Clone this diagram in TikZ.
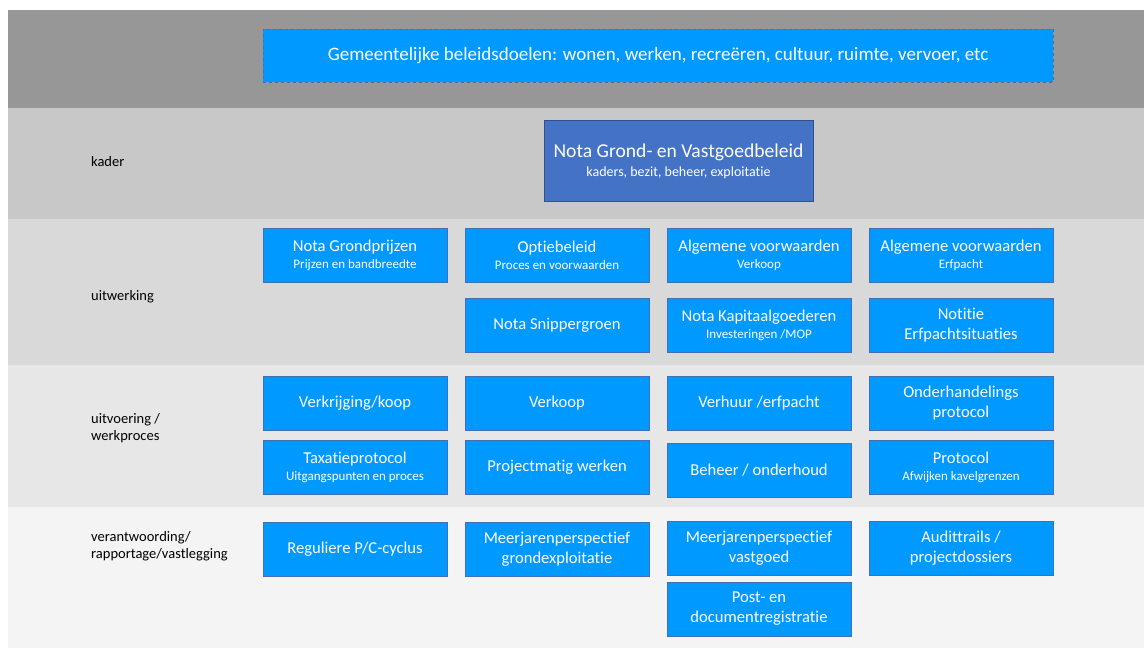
\documentclass[tikz,border=0pt]{standalone}
\usepackage{fontspec}
\setmainfont[Ligatures=NoCommon]{Carlito}
\definecolor{bandA}{RGB}{151,151,151}
\definecolor{bandB}{RGB}{200,200,200}
\definecolor{bandC}{RGB}{217,217,217}
\definecolor{bandD}{RGB}{231,231,231}
\definecolor{bandE}{RGB}{244,244,244}
\definecolor{boxblue}{RGB}{0,153,255}
\definecolor{boxline}{RGB}{70,110,180}
\definecolor{kaderblue}{RGB}{68,114,196}
\definecolor{kaderline}{RGB}{47,82,143}
\newcommand{\subtxt}[1]{\\[-3pt]{\fontsize{13}{15}\selectfont #1}}
\tikzset{
  box/.style={draw=boxline, fill=boxblue, text=white, align=center, inner sep=0pt,
    minimum width=184, minimum height=54, font=\fontsize{16.6}{20}\selectfont},
  lbl/.style={anchor=west, align=left, inner sep=0pt, font=\fontsize{14.5}{17.5}\selectfont}
}
\begin{document}
\begin{tikzpicture}[x=1pt, y=-1pt]
    \useasboundingbox[fill=white] (0,0) rectangle (1144,650);
    \fill[bandA] (8,10) rectangle (1144,108);
    \fill[bandB] (8,108) rectangle (1144,219);
    \fill[bandC] (8,219) rectangle (1144,365);
    \fill[bandD] (8,365) rectangle (1144,507);
    \fill[bandE] (8,507) rectangle (1144,648);
    % bovenste laag
    \node[box, dashed, minimum width=790, minimum height=53, font=\fontsize{19}{22}\selectfont] (gemdoel) at (658,55.5)
        {Gemeentelijke beleidsdoelen: wonen, werken, recreëren, cultuur, ruimte, vervoer, etc};
    % kader
    \node[lbl] (lkader) at (91,162) {kader};
    \node[box, fill=kaderblue, draw=kaderline, line width=1pt, minimum width=269, minimum height=81,
        font=\fontsize{19.6}{22}\selectfont] (nota) at (678.5,161.5)
        {Nota Grond- en Vastgoedbeleid\\[-3pt]{\fontsize{14}{16}\selectfont kaders, bezit, beheer, exploitatie}};
    % uitwerking
    \node[lbl] (luitw) at (91,297) {uitwerking};
    \node[box] (grondprijs) at (355,255) {Nota Grondprijzen\subtxt{Prijzen en bandbreedte}};
    \node[box] (optie) at (557,255) {Optiebeleid\subtxt{Proces en voorwaarden}};
    \node[box] (avverkoop) at (759,255) {Algemene voorwaarden\subtxt{Verkoop}};
    \node[box] (averfpacht) at (961,255) {Algemene voorwaarden\subtxt{Erfpacht}};
    \node[box] (snipper) at (557,325) {Nota Snippergroen};
    \node[box] (kapitaal) at (759,325) {Nota Kapitaalgoederen\subtxt{Investeringen /MOP}};
    \node[box] (notitie) at (961,325) {Notitie\\Erfpachtsituaties};
    % uitvoering
    \node[lbl] (luitv) at (91,428) {uitvoering /\\werkproces};
    \node[box] (koop) at (355,403) {Verkrijging/koop};
    \node[box] (verkoop) at (557,403) {Verkoop};
    \node[box] (verhuur) at (759,403) {Verhuur /erfpacht};
    \node[box] (onderh) at (961,403) {Onderhandelings\\protocol};
    \node[box] (taxatie) at (355,467) {Taxatieprotocol\subtxt{Uitgangspunten en proces}};
    \node[box] (project) at (557,467) {Projectmatig werken};
    \node[box] (beheer) at (759,470) {Beheer / onderhoud};
    \node[box] (kavel) at (961,467) {Protocol\subtxt{Afwijken kavelgrenzen}};
    % verantwoording
    \node[lbl] (lverantw) at (91,546) {verantwoording/\\rapportage/vastlegging};
    \node[box] (pc) at (355,549) {Reguliere P/C-cyclus};
    \node[box] (mpgrex) at (557,549) {Meerjarenperspectief\\grondexploitatie};
    \node[box] (mpvast) at (759,548) {Meerjarenperspectief\\vastgoed};
    \node[box] (audit) at (961,548) {Audittrails /\\projectdossiers};
    \node[box] (post) at (759,609) {Post- en\\documentregistratie};
\end{tikzpicture}
\end{document}
